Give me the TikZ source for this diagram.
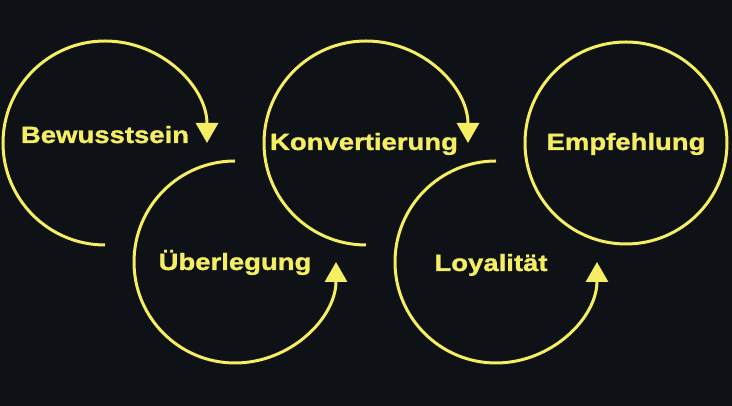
\documentclass[tikz,border=0pt]{standalone}
\usepackage{fontspec}
\setmainfont{Liberation Sans}[FakeStretch=1.17,BoldFeatures={FakeBold=1.3}]
\usetikzlibrary{arrows.meta}
\definecolor{bg}{RGB}{14,17,22}
\definecolor{yel}{RGB}{246,238,98}
\begin{document}
\begin{tikzpicture}[x=1pt,y=1pt,
  ring/.style={draw=yel, line width=3pt},
  lbl/.style={text=yel, font=\fontsize{23.5}{23.5}\selectfont\bfseries, inner sep=0pt, anchor=base},
  tipped/.style={-{Triangle[length=20pt,width=22pt]}}]
\fill[bg] (0,0) rectangle (732,406);
\useasboundingbox (0,0) rectangle (732,406);
\coordinate (c1) at (105,263);
\coordinate (c2) at (235,144);
\coordinate (c3) at (366,263);
\coordinate (c4) at (496,144);
\coordinate (c5) at (626,263);
\draw[ring,tipped] (c1) ++(270:102) arc[start angle=270,end angle=0,radius=102];
\draw[ring,tipped] (c2) ++(90:101) arc[start angle=90,end angle=360,radius=101];
\draw[ring,tipped] (c3) ++(270:102) arc[start angle=270,end angle=0,radius=102];
\draw[ring,tipped] (c4) ++(90:101) arc[start angle=90,end angle=360,radius=101];
\draw[ring] (c5) circle[radius=101];
\node[lbl] (t1) at (105,263) {Bewusstsein};
\node[lbl] (t2) at (235,136) {Überlegung};
\node[lbl] (t3) at (364,256) {Konvertierung};
\node[lbl] (t4) at (491,135) {Loyalität};
\node[lbl] (t5) at (626,256) {Empfehlung};
\end{tikzpicture}
\end{document}
